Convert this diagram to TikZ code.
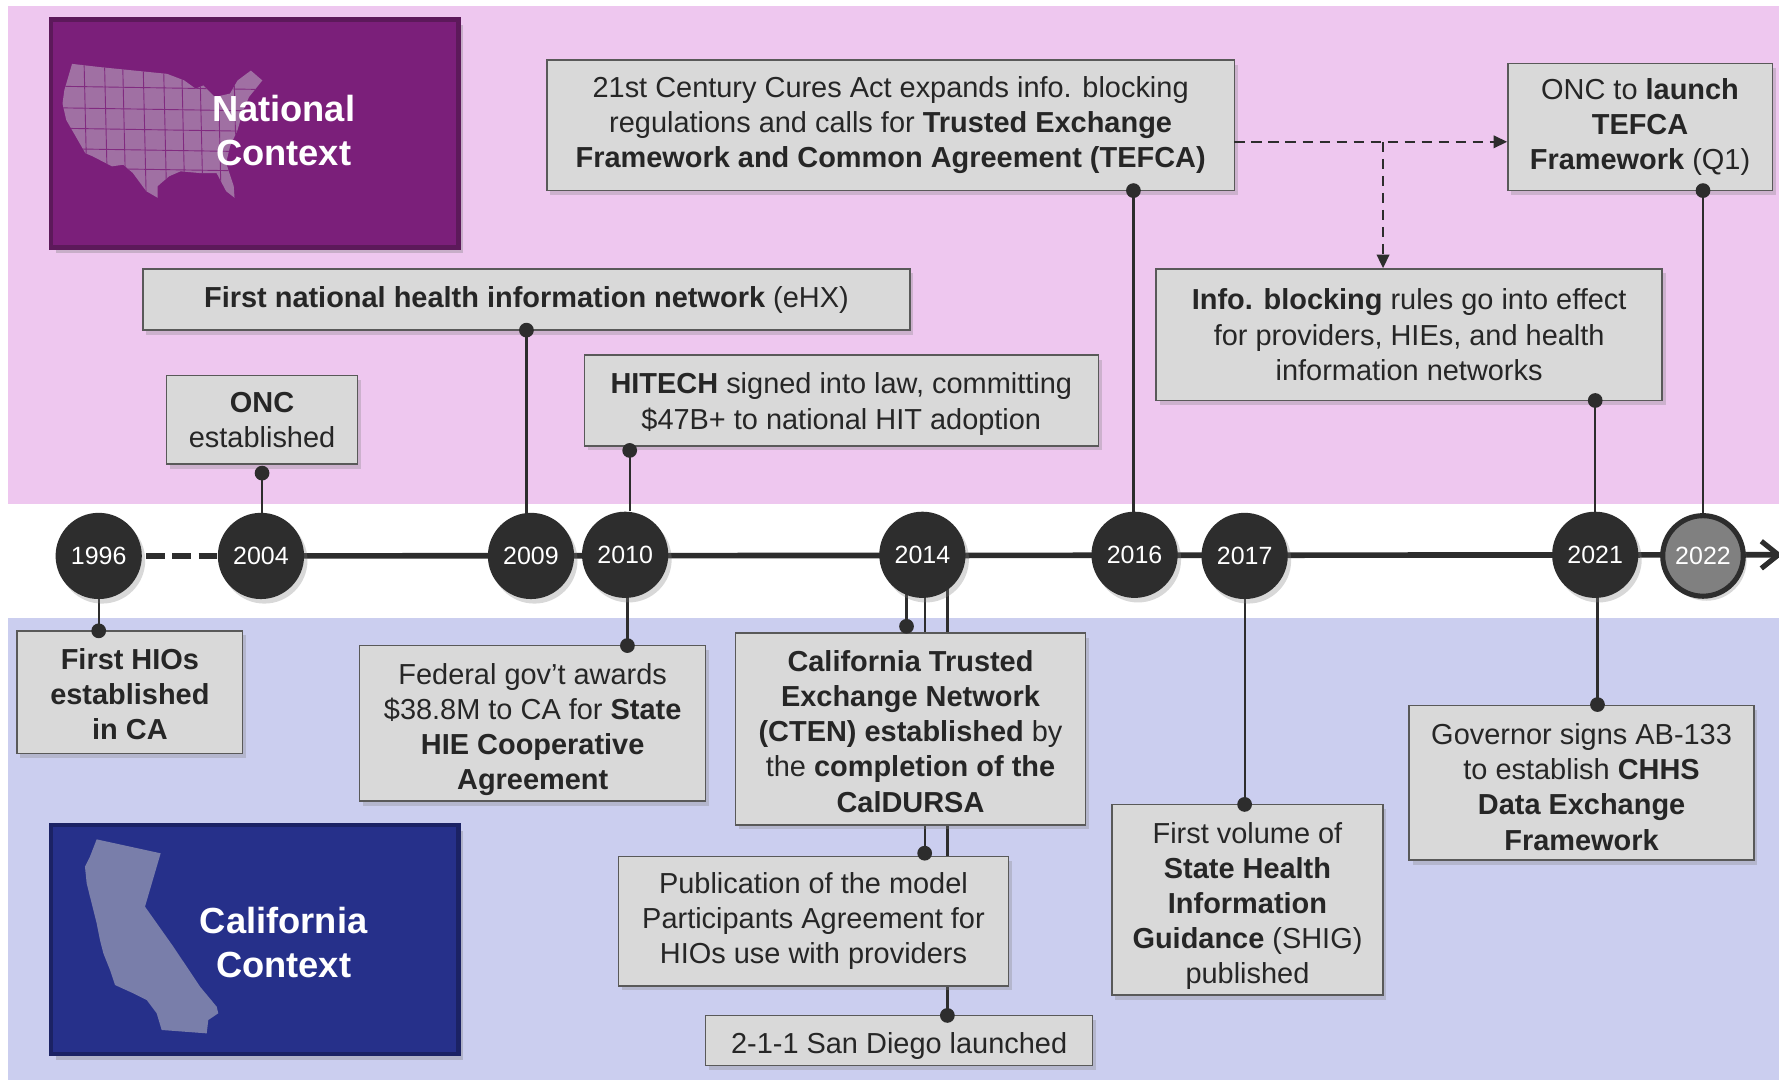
\documentclass[tikz,border=0pt]{standalone}
\usepackage{fontspec}
\setmainfont{Liberation Sans}
\usetikzlibrary{shadows,arrows.meta}
\definecolor{pinkbg}{RGB}{238,199,239}
\definecolor{bluebg}{RGB}{203,206,239}
\definecolor{purpfill}{RGB}{123,31,122}
\definecolor{purpdraw}{RGB}{92,25,90}
\definecolor{mapfill}{RGB}{160,112,163}
\definecolor{cafill}{RGB}{38,48,138}
\definecolor{cadraw}{RGB}{27,34,100}
\definecolor{camap}{RGB}{121,126,170}
\definecolor{boxfill}{RGB}{217,217,217}
\definecolor{boxdraw}{RGB}{89,89,89}
\definecolor{darkc}{RGB}{45,45,45}
\definecolor{txt}{RGB}{38,38,38}
\definecolor{gray22}{RGB}{128,128,128}
\newcommand\tdn[1]{\rule{0pt}{#1}}
\pgfdeclarelayer{back}
\pgfdeclarelayer{lines}
\pgfsetlayers{back,lines,main}
\tikzset{
  evbox/.style={draw=boxdraw, fill=boxfill, line width=1.2pt, inner sep=0pt,
    align=center, text=txt, font=\fontsize{25.5}{31}\selectfont,
    drop shadow={shadow xshift=3pt, shadow yshift=-4pt, opacity=0.3}},
  ctxbox/.style={line width=4pt, inner sep=0pt,
    drop shadow={shadow xshift=4pt, shadow yshift=-5pt, opacity=0.35}},
  ctxtext/.style={align=center, text=white, font=\bfseries\fontsize{32}{39}\selectfont},
  year/.style={circle, minimum size=76pt, inner sep=0pt, fill=darkc, text=white,
    font=\fontsize{22}{26}\selectfont,
    drop shadow={shadow xshift=3pt, shadow yshift=-4pt, opacity=0.3}},
  conn/.style={draw=darkc, line width=2pt},
  dotc/.style={fill=darkc},
  tl/.style={draw=darkc, line width=5pt},
  dasharr/.style={draw=darkc, line width=2pt, dash pattern=on 9pt off 6pt,
    -{Triangle[length=12pt,width=11pt]}},
}
\begin{document}
\begin{tikzpicture}[x=1pt,y=-1pt]
\useasboundingbox (0,0) rectangle (1568,952);
\begin{pgfonlayer}{back}
\fill[white] (0,0) rectangle (1568,952);
\fill[pinkbg] (7,5) rectangle (1568,444);
\fill[bluebg] (7,545) rectangle (1568,952);
\end{pgfonlayer}

% context panels
\node[ctxbox, fill=purpfill, draw=purpdraw, minimum width=359pt, minimum height=201pt] (natbox) at (224.5,117.5) {};
\begin{scope}
\clip (63.5,56.3) -- (88.6,59.2) -- (147.3,65.1) -- (162.4,70.9) -- (172.5,78.2) -- (179.2,75.3)
  -- (189.3,85.5) -- (202.7,82.5) -- (209.4,70.9) -- (221.1,62.2) -- (231.2,70.9) -- (219.5,85.5)
  -- (214.4,97.1) -- (209.4,114.6) -- (202.7,129.2) -- (199.3,143.7) -- (206.0,164.1) -- (206.7,174.3)
  -- (199.3,168.5) -- (190.9,152.5) -- (175.8,152.5) -- (159.1,151.0) -- (149.0,155.4) -- (138.9,164.1)
  -- (138.9,174.3) -- (128.9,168.5) -- (117.1,152.5) -- (108.7,145.2) -- (98.7,146.6) -- (81.9,137.9)
  -- (75.2,135.0) -- (68.5,123.3) -- (58.4,105.8) -- (55.1,91.3) -- (56.7,79.6) -- (60.1,68.0) -- cycle;
\fill[mapfill] (50,50) rectangle (240,180);
\foreach \xx in {74,92,108,126,144,160,176,192,206}
  \draw[purpfill!85!mapfill, line width=0.8pt] (\xx,50) -- (\xx+3,180);
\foreach \yy in {76,95,113,131,148}
  \draw[purpfill!85!mapfill, line width=0.8pt] (50,\yy) -- (240,\yy+3);
\end{scope}
\node[ctxtext] (natlabel) at (250,115) {National\\Context};

\node[ctxbox, fill=cafill, draw=cadraw, minimum width=359pt, minimum height=202pt] (cabox) at (224.5,828) {};
\fill[camap] (85.2,739.8) -- (141.6,752.1) -- (127.8,799.1) -- (152.8,834.4) -- (176.3,869.6)
  -- (191.0,887.3) -- (192.4,893.1) -- (183.6,899.0) -- (182.2,910.8) -- (142.5,907.8)
  -- (138.1,893.1) -- (129.3,881.4) -- (117.5,875.5) -- (101.4,868.2) -- (97.0,855.0)
  -- (91.1,840.2) -- (88.1,828.5) -- (85.2,813.8) -- (82.3,802.1) -- (79.3,790.3)
  -- (76.4,778.6) -- (74.9,763.9) -- (79.3,755.0) -- cycle;
\node[ctxtext] (calabel) at (250,831) {California\\Context};

% year markers
\node[year] (y1996) at (87,490) {1996};
\node[year] (y2004) at (230,490) {2004};
\node[year] (y2009) at (468,490) {2009};
\node[year] (y2010) at (551,489) {2010};
\node[year] (y2014) at (813,489) {2014};
\node[year] (y2016) at (1000,489) {2016};
\node[year] (y2017) at (1097,490) {2017};
\node[year] (y2021) at (1406,489) {2021};
\node[year, fill=gray22, draw=darkc, line width=4.5pt, minimum size=71pt] (y2022) at (1501,490) {2022};
\coordinate (tlend) at (1571,489);

% event boxes (national)
\node[evbox, minimum width=606pt, minimum height=115pt] (cures) at (785,110.5)
  {21st Century Cures Act expands info. blocking\\ regulations and calls for \textbf{Trusted Exchange}\\ \textbf{Framework and Common Agreement (TEFCA)}};
\node[evbox, minimum width=233pt, minimum height=112pt] (tefca) at (1445.5,112)
  {ONC to \textbf{launch}\\ \textbf{TEFCA}\\ \textbf{Framework} (Q1)};
\node[evbox, minimum width=446pt, minimum height=116pt] (info) at (1242,295)
  {\textbf{Info. blocking} rules go into effect\\ for providers, HIEs, and health\\ information networks};
\node[evbox, minimum width=676pt, minimum height=54pt] (ehx) at (464,264)
  {\textbf{First national health information network} (eHX)};
\node[evbox, minimum width=168pt, minimum height=78pt] (onc) at (231,370)
  {\textbf{ONC}\\ established};
\node[evbox, minimum width=453pt, minimum height=80pt] (hitech) at (741.5,353)
  {\tdn{24.7pt}\textbf{HITECH} signed into law, committing\\ \$47B+ to national HIT adoption};

% event boxes (California)
\node[evbox, minimum width=199pt, minimum height=108pt] (hios) at (114.5,610)
  {\tdn{21.7pt}\textbf{First HIOs}\\ \textbf{established}\\ \textbf{in CA}};
\node[evbox, minimum width=305pt, minimum height=137pt] (fed) at (469.5,637.5)
  {\tdn{29.5pt}Federal gov’t awards\\ \$38.8M to CA for \textbf{State}\\ \textbf{HIE Cooperative}\\ \textbf{Agreement}};
\node[evbox, minimum width=309pt, minimum height=169pt] (cten) at (802.5,642.5)
  {\tdn{22.7pt}\textbf{California Trusted}\\ \textbf{Exchange Network}\\ \textbf{(CTEN) established} by\\ the \textbf{completion of the}\\ \textbf{CalDURSA}};
\node[evbox, minimum width=344pt, minimum height=114pt] (pub) at (717,812)
  {Publication of the model\\ Participants Agreement for\\ HIOs use with providers};
\node[evbox, minimum width=341pt, minimum height=44pt] (sd) at (792.5,917)
  {\tdn{28.7pt}2-1-1 San Diego launched};
\node[evbox, minimum width=239pt, minimum height=168pt] (shig) at (1099.5,793)
  {\tdn{29.5pt}First volume of\\ \textbf{State Health}\\ \textbf{Information}\\ \textbf{Guidance} (SHIG)\\ published};
\node[evbox, minimum width=304pt, minimum height=136pt] (gov) at (1394,690)
  {\tdn{25.7pt}Governor signs AB-133\\ to establish \textbf{CHHS}\\ \textbf{Data Exchange}\\ \textbf{Framework}};

% dot coordinates
\coordinate (dcures) at (999,168);
\coordinate (dtefca) at (1501,168);
\coordinate (dinfo) at (1406,353);
\coordinate (dehx) at (464,291);
\coordinate (donc) at (231,417);
\coordinate (dhitech) at (555,397);
\coordinate (dhios) at (87,556);
\coordinate (dfed) at (553,569);
\coordinate (dcten) at (799,552);
\coordinate (dpub) at (815,752);
\coordinate (dsd) at (835,895);
\coordinate (dshig) at (1097,709);
\coordinate (dgov) at (1408,621);

\begin{pgfonlayer}{lines}
\draw[tl, dash pattern=on 16pt off 7pt, dash phase=4pt] (y1996.center) -- (y2004.center);
\draw[tl, -{Straight Barb[length=15pt,width=24pt,line width=4.5pt]}] (y2004.center) -- (tlend);
\draw[conn] (dcures) -- (dcures |- y2016.center);
\draw[conn] (dtefca) -- (dtefca |- y2022.center);
\draw[conn] (dinfo) -- (dinfo |- y2021.center);
\draw[conn] (dehx) -- (dehx |- y2009.center);
\draw[conn] (donc) -- (donc |- y2004.center);
\draw[conn] (dhitech) -- (dhitech |- y2010.north);
\draw[conn] (dhios) -- (dhios |- y1996.center);
\draw[conn] (dfed) -- (dfed |- y2010.center);
\draw[conn] (dcten) -- (dcten |- y2014.center);
\draw[conn] (dpub) -- (dpub |- y2014.center);
\draw[conn] (dsd) -- (dsd |- y2014.center);
\draw[conn] (dshig) -- (dshig |- y2017.center);
\draw[conn] (dgov) -- (dgov |- y2021.center);
\end{pgfonlayer}

\foreach \d in {dcures,dtefca,dinfo,dehx,donc,dhitech,dhios,dfed,dcten,dpub,dsd,dshig,dgov}
  \fill[dotc] (\d) circle[radius=6.5pt];

% dashed arrows
\coordinate (ca) at (1088,125);
\coordinate (cb) at (1219,125);
\draw[dasharr] (ca) -- (ca -| tefca.west);
\draw[dasharr] (cb) -- (cb |- info.north);
\end{tikzpicture}
\end{document}
